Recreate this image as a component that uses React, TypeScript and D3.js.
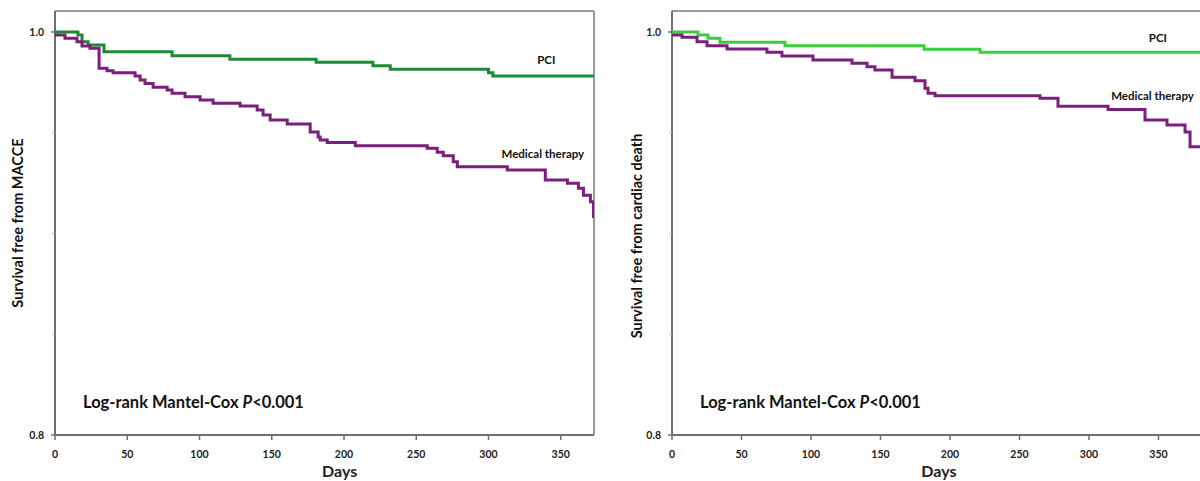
import React from "react";
import * as d3 from "d3";

// ---- data ----
const DAY_TICKS = [0, 50, 100, 150, 200, 250, 300, 350];
const Y_LABEL_TICKS = [0.8, 1.0];
const Y_MINOR_TICKS = [0.85, 0.9, 0.95];

// Left: survival free from MACCE
const maccePciDays = [0, 15.9, 18.7, 22.9, 33.9, 81, 121, 180.7, 220, 232, 300, 303, 373];
const maccePciSurv = [1.0, 0.9985, 0.9952, 0.9936, 0.9902, 0.9882, 0.9865, 0.985, 0.9833, 0.9815, 0.9798, 0.9782, 0.9782];
const macceMedDays = [0, 6.9, 15.2, 18.7, 24.2, 30.5, 36.0, 40.2, 55.4, 58.9, 62.3, 67.9, 77.6, 81.0, 90.0, 100.4, 109.4, 128.1, 139.9, 144.0, 148.9, 160.7, 176.6, 182.1, 183.5, 188.4, 207.8, 257.6, 264.5, 268.7, 275.6, 278.4, 313.0, 339.3, 354.6, 362.2, 365.7, 370.5, 372.6, 373];
const macceMedSurv = [0.9985, 0.9969, 0.9952, 0.9931, 0.9919, 0.982, 0.9808, 0.9798, 0.9782, 0.9762, 0.9745, 0.9726, 0.9712, 0.9696, 0.9679, 0.9663, 0.9646, 0.9633, 0.9613, 0.9588, 0.9563, 0.9543, 0.9504, 0.9479, 0.9464, 0.9452, 0.9436, 0.9423, 0.9403, 0.9386, 0.9356, 0.9331, 0.9315, 0.9265, 0.9249, 0.9224, 0.919, 0.9158, 0.9084, 0.9084];

// Right: survival free from cardiac death
const cardPciDays = [0, 18.7, 25.9, 34.5, 81.3, 181.3, 221.6, 390];
const cardPciSurv = [1.0, 0.9985, 0.9969, 0.9949, 0.9932, 0.9914, 0.9899, 0.9899];
const cardMedDays = [0, 7.2, 18.0, 25.2, 39.6, 68.3, 79.1, 101.4, 129.5, 140.3, 146.0, 158.3, 174.8, 182.0, 184.2, 189.2, 264.7, 277.7, 313.7, 340.3, 356.1, 369.1, 372.7, 390];
const cardMedSurv = [0.9985, 0.9974, 0.9952, 0.9932, 0.9916, 0.9899, 0.9881, 0.9861, 0.9845, 0.9828, 0.9811, 0.9775, 0.9758, 0.9721, 0.9696, 0.9684, 0.9671, 0.9632, 0.9616, 0.9563, 0.9538, 0.9504, 0.943, 0.943];

const SERIES_NAMES = ["PCI", "Medical therapy"];
const ANNOTATION = "Log-rank Mantel-Cox ";

const FONT = "Lato, 'Open Sans', sans-serif";
const PURPLE = "#7a1f7c";

type Pt = [number, number];
const zip = (a: number[], b: number[]): Pt[] => a.map((d, i) => [d, b[i]]);

interface PanelProps {
  x0: number;
  x1: number;
  xMax: number;
  yTitle: string;
  yTitleX: number;
  yTitleY: number;
  daysAt: number;
  pci: Pt[];
  med: Pt[];
  pciColor: string;
  pciLabel: Pt;
  medLabel: Pt;
  drawRight: boolean;
}

function Panel(p: PanelProps) {
  const top = 11;
  const bottom = 435;
  const x = d3.scaleLinear().domain([0, p.xMax]).range([p.x0, p.x1]);
  const y = d3.scaleLinear().domain([0.8, 1.0]).range([bottom, 32]);
  const line = d3
    .line<Pt>()
    .x((d) => x(d[0]))
    .y((d) => y(d[1]))
    .curve(d3.curveStepAfter);
  const clipId = `clip-${Math.round(p.x0)}`;
  return (
    <g>
      <defs>
        <clipPath id={clipId}>
          <rect x={p.x0} y={top} width={p.x1 - p.x0} height={bottom - top + 2} />
        </clipPath>
      </defs>
      {/* frame */}
      <line x1={p.x0} x2={p.x1} y1={top} y2={top} stroke="#9a9a9a" strokeWidth={2} />
      {p.drawRight && <line x1={p.x1} x2={p.x1} y1={top} y2={bottom} stroke="#9a9a9a" strokeWidth={2} />}
      <line x1={p.x0} x2={p.x0} y1={top} y2={bottom} stroke="#6f6f6f" strokeWidth={2} />
      <line x1={p.x0} x2={p.x1} y1={bottom} y2={bottom} stroke="#6f6f6f" strokeWidth={2} />
      {/* x ticks */}
      {DAY_TICKS.map((t) => (
        <g key={t}>
          <line x1={x(t)} x2={x(t)} y1={bottom} y2={bottom + 5} stroke="#6f6f6f" strokeWidth={1.5} />
          <text x={x(t)} y={bottom + 23} textAnchor="middle" fontSize={10.5} fontWeight={700} fontFamily={FONT} fill="#222">
            {t}
          </text>
        </g>
      ))}
      <text x={x(p.daysAt)} y={bottom + 42} textAnchor="middle" fontSize={16} fontWeight={700} fontFamily={FONT} fill="#222">
        Days
      </text>
      {/* y ticks */}
      {Y_MINOR_TICKS.map((t) => (
        <line key={t} x1={p.x0 - 3} x2={p.x0} y1={y(t)} y2={y(t)} stroke="#bbb" strokeWidth={1} />
      ))}
      {Y_LABEL_TICKS.map((t) => (
        <g key={t}>
          <line x1={p.x0 - 4} x2={p.x0} y1={y(t)} y2={y(t)} stroke="#6f6f6f" strokeWidth={1.5} />
          <text x={p.x0 - 11} y={y(t) + 3.5} textAnchor="end" fontSize={10.5} fontWeight={700} fontFamily={FONT} fill="#222">
            {t.toFixed(1)}
          </text>
        </g>
      ))}
      <text
        transform={`translate(${p.yTitleX},${p.yTitleY}) rotate(-90)`}
        textAnchor="middle"
        fontSize={14.5}
        fontWeight={700}
        fontFamily={FONT}
        fill="#111"
      >
        {p.yTitle}
      </text>
      {/* curves */}
      <g clipPath={`url(#${clipId})`}>
        <path d={line(p.pci) || ""} fill="none" stroke={p.pciColor} strokeWidth={3} />
        <path d={line(p.med) || ""} fill="none" stroke={PURPLE} strokeWidth={3} />
      </g>
      {/* series labels */}
      <text x={x(p.pciLabel[0])} y={y(p.pciLabel[1]) + 4} textAnchor="middle" fontSize={11.5} fontWeight={700} fontFamily={FONT} fill="#111">
        {SERIES_NAMES[0]}
      </text>
      <text x={x(p.medLabel[0])} y={y(p.medLabel[1]) + 4} textAnchor="middle" fontSize={11.5} fontWeight={700} fontFamily={FONT} fill="#111">
        {SERIES_NAMES[1]}
      </text>
      {/* annotation */}
      <text x={p.x0 + 28} y={bottom - 27} fontSize={16.5} fontWeight={700} fontFamily={FONT} fill="#111">
        {ANNOTATION}
        <tspan fontStyle="italic">P</tspan>
        {"<0.001"}
      </text>
    </g>
  );
}

export default function App() {
  return (
    <svg width={1200} height={481} style={{ position: "absolute", left: 0, top: 0, background: "#fff" }}>
      <rect width={1200} height={481} fill="#fff" />
      <Panel
        x0={55}
        x1={594}
        xMax={373}
        yTitle="Survival free from MACCE"
        yTitleX={23}
        yTitleY={223}
        daysAt={197}
        pci={zip(maccePciDays, maccePciSurv)}
        med={zip(macceMedDays, macceMedSurv)}
        pciColor="#1d8a32"
        pciLabel={[340, 0.9861]}
        medLabel={[337.6, 0.9395]}
        drawRight={true}
      />
      <Panel
        x0={672}
        x1={672 + 390 * 1.39}
        xMax={390}
        yTitle="Survival free from cardiac death"
        yTitleX={642}
        yTitleY={236}
        daysAt={192}
        pci={zip(cardPciDays, cardPciSurv)}
        med={zip(cardMedDays, cardMedSurv)}
        pciColor="#3ccc3c"
        pciLabel={[349.6, 0.997]}
        medLabel={[345.7, 0.9682]}
        drawRight={false}
      />
    </svg>
  );
}
